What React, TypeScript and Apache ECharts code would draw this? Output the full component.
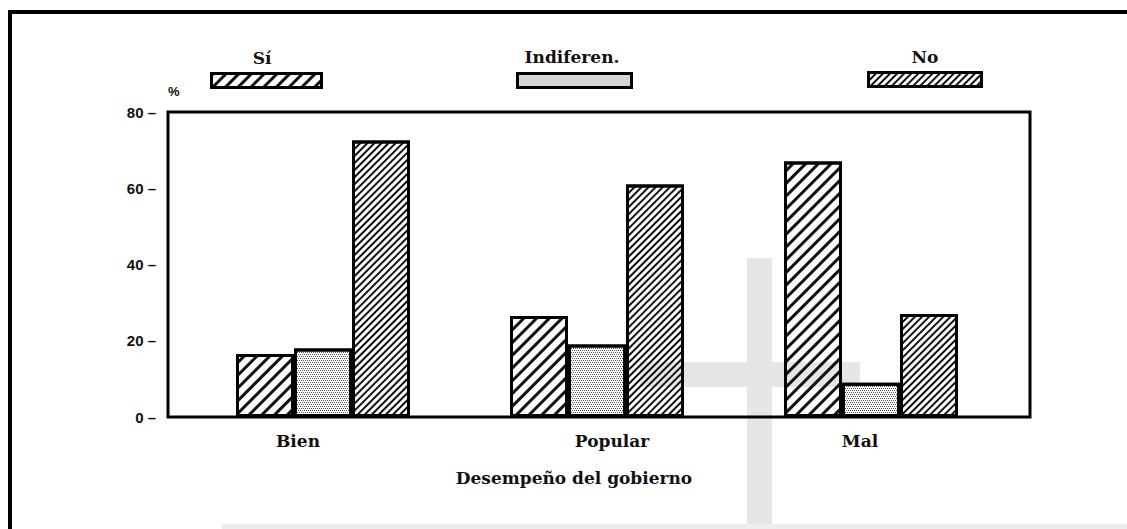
import React, { useEffect, useRef } from "react";
import * as echarts from "echarts";

const categories = ["Bien", "Popular", "Mal"];
const seriesNames = ["Sí", "Indiferen.", "No"];
const siValues = [16.5, 26.5, 67];
const indifValues = [18, 19, 9];
const noValues = [72.5, 61, 27];
const yMin = 0;
const yMax = 80;
const yStep = 20;
const yName = "%";
const xName = "Desempeño del gobierno";

const serif = "'DejaVu Serif', 'Liberation Serif', serif";
const sans = "'Liberation Sans', Arial, sans-serif";

const decalSi = {
  symbol: "rect",
  symbolSize: 1,
  color: "#111",
  dashArrayX: [1, 0],
  dashArrayY: [3, 5.3],
  rotation: -Math.PI / 4,
};
const decalIndif = {
  symbol: "rect",
  symbolSize: 1,
  color: "#555",
  dashArrayX: [[1, 1], [0, 1, 1, 0]],
  dashArrayY: [1, 1],
  rotation: 0,
};
const decalNo = {
  symbol: "rect",
  symbolSize: 1,
  color: "#111",
  dashArrayX: [1, 0],
  dashArrayY: [2, 2.3],
  rotation: -Math.PI / 4,
};

export default function App() {
  const ref = useRef<HTMLDivElement>(null);
  useEffect(() => {
    if (!ref.current) return;
    const chart = echarts.init(ref.current, null, { renderer: "svg" });
    const labelKeys = ["b", "p", "m"];
    const barStyle = (decal: any) => ({
      color: "rgba(255,255,255,0)",
      borderColor: "#000",
      borderWidth: 3,
      decal,
    });
    const legendBase = (name: string, left: number, top: number, w: number) => ({
      data: [{ name, icon: "rect" }],
      left,
      top,
      itemWidth: w,
      itemHeight: 14,
      itemGap: 0,
      padding: 0,
      formatter: () => "",
      textStyle: { fontSize: 1 },
      selectedMode: false,
      itemStyle: { borderColor: "#000", borderWidth: 3 },
    });
    const labelFont = `bold 17px ${serif}`;
    chart.setOption({
      animation: false,
      backgroundColor: "#fff",
      graphic: [
        { type: "rect", silent: true, z: -10, shape: { x: 747, y: 258, width: 25, height: 280 }, style: { fill: "#e6e6e6" } },
        { type: "rect", silent: true, z: -10, shape: { x: 640, y: 362, width: 220, height: 25 }, style: { fill: "#e6e6e6" } },
        { type: "rect", silent: true, z: -10, shape: { x: 222, y: 524, width: 920, height: 6 }, style: { fill: "#ededed" } },
        { type: "rect", silent: true, z: 10, shape: { x: 10, y: 12, width: 1300, height: 700 }, style: { fill: "none", stroke: "#000", lineWidth: 4 } },
        { type: "text", x: 262, y: 58, style: { text: seriesNames[0], fill: "#111", font: labelFont, align: "center", verticalAlign: "middle" } },
        { type: "text", x: 572, y: 57, style: { text: seriesNames[1], fill: "#111", font: labelFont, align: "center", verticalAlign: "middle" } },
        { type: "text", x: 925, y: 57, style: { text: seriesNames[2], fill: "#111", font: labelFont, align: "center", verticalAlign: "middle" } },
      ],
      legend: [
        legendBase(seriesNames[0], 210, 72, 110),
        legendBase(seriesNames[1], 516, 72, 114),
        legendBase(seriesNames[2], 867, 71, 113),
      ],
      grid: [
        { left: 168, top: 112, width: 862, height: 305, show: true, borderColor: "#000", borderWidth: 3, backgroundColor: "transparent" },
        { left: 186, top: 112, width: 822, height: 305 },
      ],
      xAxis: [
        { gridIndex: 0, type: "category", data: categories, show: false },
        {
          gridIndex: 1,
          type: "category",
          data: categories,
          axisLine: { show: false },
          axisTick: { show: false },
          axisLabel: {
            margin: 15,
            fontFamily: serif,
            fontWeight: "bold",
            fontSize: 17,
            color: "#111",
            formatter: (v: string) => {
              const i = categories.indexOf(v);
              return `{${labelKeys[i]}|${v}}`;
            },
            rich: {
              b: { padding: [0, 50, 0, 0], fontFamily: serif, fontWeight: "bold", fontSize: 17, color: "#111" },
              p: { padding: [0, 0, 0, 30], fontFamily: serif, fontWeight: "bold", fontSize: 17, color: "#111" },
              m: { padding: [0, 22, 0, 0], fontFamily: serif, fontWeight: "bold", fontSize: 17, color: "#111" },
            },
          },
          name: xName,
          nameLocation: "middle",
          nameGap: 52,
          nameTextStyle: { fontFamily: serif, fontWeight: "bold", fontSize: 17, color: "#111", padding: [0, 46, 0, 0] },
        },
      ],
      yAxis: [
        {
          gridIndex: 0,
          type: "value",
          min: yMin,
          max: yMax,
          interval: yStep,
          axisLine: { show: false },
          axisTick: { show: false },
          splitLine: { show: false },
          axisLabel: { margin: 12, fontFamily: sans, fontWeight: "bold", fontSize: 15, color: "#111", formatter: (v: number) => `${v} –` },
          name: yName,
          nameLocation: "end",
          nameGap: 14,
          nameTextStyle: { fontFamily: sans, fontWeight: "bold", fontSize: 13, color: "#111", align: "left" },
        },
        { gridIndex: 1, type: "value", min: yMin, max: yMax, interval: yStep, show: false },
      ],
      series: [
        { name: seriesNames[0], type: "bar", xAxisIndex: 1, yAxisIndex: 1, data: siValues, barWidth: 58, barGap: "0%", itemStyle: barStyle(decalSi) },
        { name: seriesNames[1], type: "bar", xAxisIndex: 1, yAxisIndex: 1, data: indifValues, barWidth: 58, barGap: "0%", itemStyle: barStyle(decalIndif) },
        { name: seriesNames[2], type: "bar", xAxisIndex: 1, yAxisIndex: 1, data: noValues, barWidth: 58, barGap: "0%", itemStyle: barStyle(decalNo) },
      ],
    });
    return () => chart.dispose();
  }, []);
  return <div ref={ref} style={{ position: "absolute", left: 0, top: 0, width: 1127, height: 529 }} />;
}
